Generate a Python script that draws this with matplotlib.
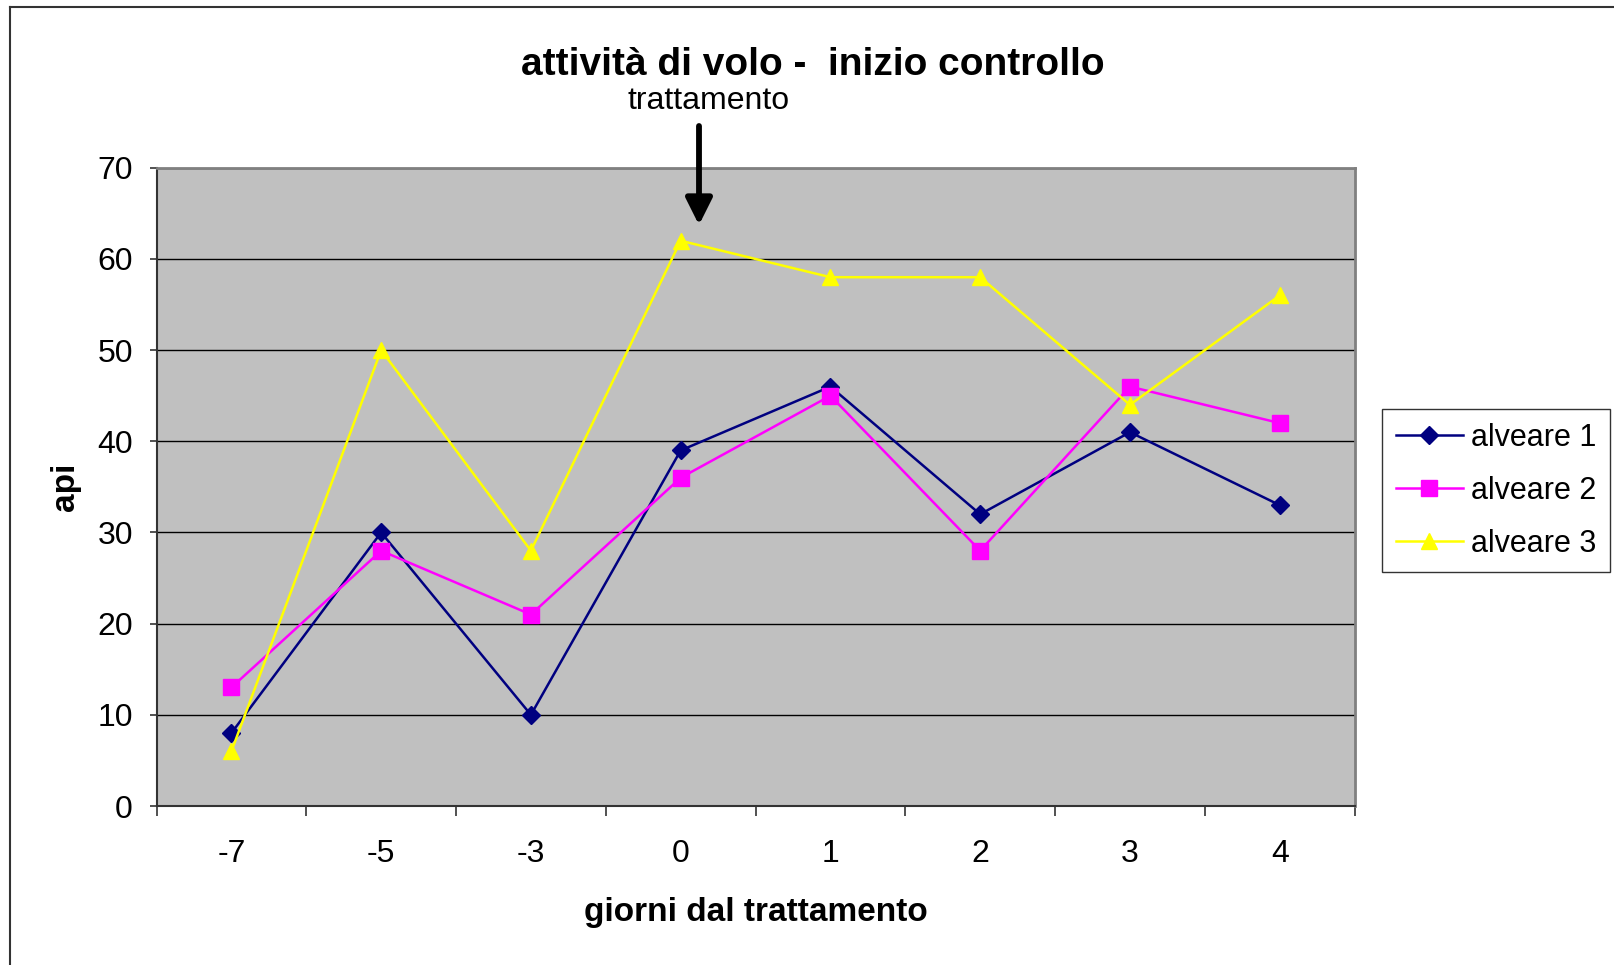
import matplotlib
matplotlib.use("Agg")
import matplotlib.pyplot as plt
from matplotlib.lines import Line2D

plt.rcParams['font.family'] = ['Liberation Sans', 'DejaVu Sans']

giorni = ['-7', '-5', '-3', '0', '1', '2', '3', '4']
alveare1 = [8, 30, 10, 39, 46, 32, 41, 33]
alveare2 = [13, 28, 21, 36, 45, 28, 46, 42]
alveare3 = [6, 50, 28, 62, 58, 58, 44, 56]

W, H = 1614, 965
fig = plt.figure(figsize=(W / 100, H / 100), dpi=100)
fig.patch.set_facecolor('white')

# outer chart border (left and top visible)
fig.add_artist(Line2D([10 / W, 10 / W], [0, 1 - 7 / H], color='#333333', lw=1.5))
fig.add_artist(Line2D([10 / W, 1], [1 - 7 / H, 1 - 7 / H], color='#333333', lw=1.5))

ax = fig.add_axes([156.5 / W, 1 - 806 / H, (1354.6 - 156.5) / W, (806 - 167.8) / H])
ax.set_facecolor('#C0C0C0')

xs = list(range(len(giorni)))
ax.plot(xs, alveare1, color='#000080', lw=1.8, marker='D', ms=9, mec='#000080',
        label='alveare 1', zorder=3)
ax.plot(xs, alveare2, color='#FF00FF', lw=1.8, marker='s', ms=11.5, mec='#FF00FF',
        label='alveare 2', zorder=3)
ax.plot(xs, alveare3, color='#FFFF00', lw=1.8, marker='^', ms=12, mec='#FFFF00',
        label='alveare 3', zorder=3)

ax.set_xlim(-0.5, len(giorni) - 0.5)
ax.set_ylim(0, 70)
ax.set_yticks(range(0, 71, 10))
ax.yaxis.grid(True, color='black', lw=1)
ax.set_axisbelow(True)

ax.set_xticks(xs)
ax.set_xticklabels(giorni)
ax.set_xticks([x - 0.5 for x in range(len(giorni) + 1)], minor=True)
ax.tick_params(axis='x', which='major', length=0, pad=24, labelsize=23)
ax.tick_params(axis='x', which='minor', length=7, width=1.2, color='#333333', direction='out')
ax.tick_params(axis='y', length=5, width=1.2, color='#333333', direction='out', pad=12, labelsize=23)

for s in ['top', 'right']:
    ax.spines[s].set_color('#808080')
    ax.spines[s].set_linewidth(2)
for s in ['left', 'bottom']:
    ax.spines[s].set_color('#333333')
    ax.spines[s].set_linewidth(1.5)

ax.set_xlabel('giorni dal trattamento', fontsize=24, fontweight='bold', labelpad=20)
ax.set_ylabel('api', fontsize=24, fontweight='bold', labelpad=12)

fig.text(813 / W, 1 - 65 / H, 'attività di volo -  inizio controllo', ha='center', va='center',
         fontsize=28, fontweight='bold')
fig.text(709 / W, 1 - 101 / H, 'trattamento', ha='center', va='center', fontsize=23)

ax.annotate('', xy=(699 / W, 1 - 225 / H), xytext=(699 / W, 1 - 126 / H),
            xycoords='figure fraction', textcoords='figure fraction',
            arrowprops=dict(arrowstyle='-|>', lw=4.2, mutation_scale=40, color='black',
                            shrinkA=0, shrinkB=0))

leg = fig.legend(loc='upper left', bbox_to_anchor=(1382 / W, 1 - 409 / H), fontsize=22,
                 frameon=True, fancybox=False, edgecolor='black', handlelength=2.2,
                 handletextpad=0.25, borderpad=0.45, labelspacing=0.75, borderaxespad=0)
leg.get_frame().set_linewidth(1)

fig.savefig('out.png', dpi=100)
